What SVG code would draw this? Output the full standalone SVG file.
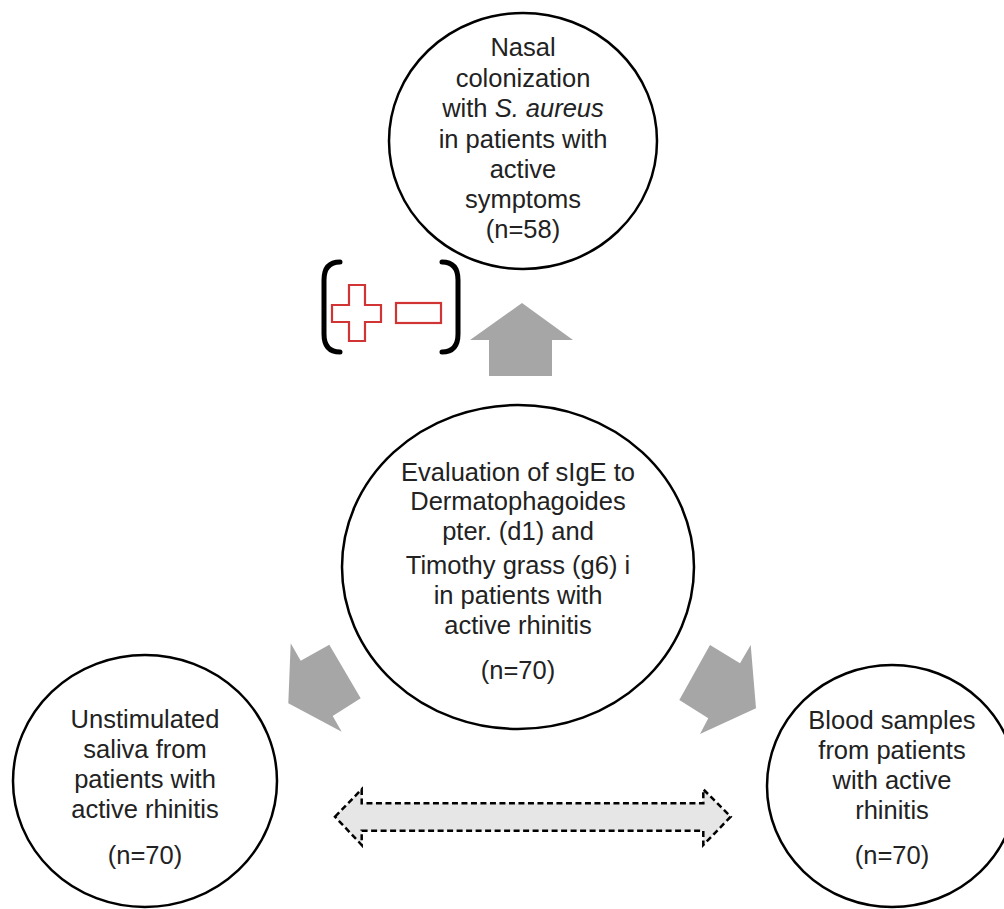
<svg xmlns="http://www.w3.org/2000/svg" width="1004" height="909" viewBox="0 0 1004 909">
<style>
.node{fill:#fff;stroke:#000;stroke-width:2.5}
.t{font-family:"Liberation Sans",Arial,sans-serif;font-size:25.5px;fill:#222;text-anchor:middle}
.blk{fill:#a6a6a6;stroke:none}
.red{fill:#fff;stroke:#d03434;stroke-width:2.2}
.br{fill:none;stroke:#000;stroke-width:5;stroke-linecap:round}
</style>
<rect width="1004" height="909" fill="#fff"/>
<g id="node-top">
<ellipse class="node" cx="523" cy="141" rx="134" ry="128"/>
<text class="t"><tspan x="523" y="56">Nasal</tspan><tspan x="523" y="87">colonization</tspan><tspan x="523" y="117">with <tspan font-style="italic">S. aureus</tspan></tspan><tspan x="523" y="148">in patients with</tspan><tspan x="523" y="178">active</tspan><tspan x="523" y="208">symptoms</tspan><tspan x="523" y="238">(n=58)</tspan></text>
</g>
<g id="node-center">
<ellipse class="node" cx="518" cy="567" rx="176" ry="162"/>
<text class="t"><tspan x="518" y="481">Evaluation of sIgE to</tspan><tspan x="518" y="510">Dermatophagoides</tspan><tspan x="518" y="540">pter. (d1) and</tspan><tspan x="518" y="574">Timothy grass (g6) i</tspan><tspan x="518" y="604">in patients with</tspan><tspan x="518" y="634">active rhinitis</tspan><tspan x="518" y="679">(n=70)</tspan></text>
</g>
<g id="node-left">
<ellipse class="node" cx="145" cy="781" rx="132" ry="126"/>
<text class="t"><tspan x="145" y="728">Unstimulated</tspan><tspan x="145" y="758">saliva from</tspan><tspan x="145" y="788">patients with</tspan><tspan x="145" y="818">active rhinitis</tspan><tspan x="145" y="864">(n=70)</tspan></text>
</g>
<g id="node-right">
<ellipse class="node" cx="892" cy="786" rx="125" ry="121"/>
<text class="t"><tspan x="892" y="729">Blood samples</tspan><tspan x="892" y="759">from patients</tspan><tspan x="892" y="789">with active</tspan><tspan x="892" y="819">rhinitis</tspan><tspan x="892" y="864">(n=70)</tspan></text>
</g>
<g id="symbols">
<path class="br" d="M340,262 Q324,262 324,280 L324,334 Q324,352 340,352"/>
<path class="br" d="M442,262 Q458,262 458,280 L458,334 Q458,352 442,352"/>
<path class="red" d="M349,285 H365 V305 H381 V322 H365 V341 H349 V322 H332 V305 H349 Z"/>
<rect class="red" x="396" y="303" width="45" height="20"/>
</g>
<g id="connectors">
<polygon class="blk" points="522,303 573,340 552,340 552,376 489,376 489,340 470,340"/>
<polygon class="blk" points="290.7,643.3 300.7,660.7 329.3,644.7 360.7,698.3 332.7,716 341.7,731.7 288.3,703.3"/>
<polygon class="blk" points="750.7,645 740,663.3 710,645 679.3,700 708.3,718.3 700,734 756,708.3"/>
<polygon points="335,816.7 361.7,789.3 361.7,803.3 703.3,803.3 703.3,789.3 730.7,816.7 703.3,845 703.3,830.7 361.7,830.7 361.7,845" fill="#e7e6e6" stroke="#000" stroke-width="2.5" stroke-dasharray="6,3.5"/>
</g>
</svg>
